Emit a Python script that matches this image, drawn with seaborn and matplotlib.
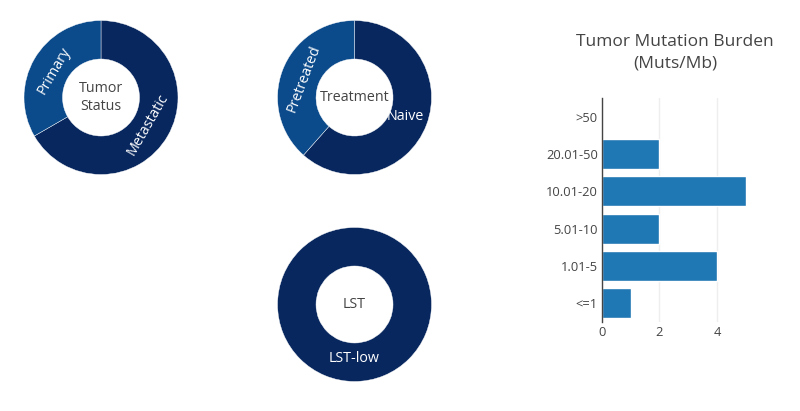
import numpy as np
import pandas as pd
import seaborn as sns
import matplotlib.pyplot as plt

# donut data
status_labels = ['Metastatic', 'Primary']
status_counts = [10, 5]
treat_labels = ['Naive', 'Pretreated']
treat_counts = [8, 5]
lst_labels = ['LST-low']
lst_counts = [1]

# tumor mutation burden bars
tmb_bins = ['>50', '20.01-50', '10.01-20', '5.01-10', '1.01-5', '<=1']
tmb_counts = [0, 2, 5, 2, 4, 1]

dark = '#08275e'
light = '#0b4a8b'
text_col = '#444444'

sns.set_theme(style='white')
plt.rcParams['font.family'] = ['Open Sans', 'DejaVu Sans']

fig = plt.figure(figsize=(8, 4.11), dpi=100)


def donut(rect, labels, counts, center_text, flat=()):
    ax = fig.add_axes(rect)
    wedges, _ = ax.pie(counts, colors=[dark, light][:len(counts)],
                       startangle=90, counterclock=False, radius=1,
                       wedgeprops=dict(width=0.5, edgecolor='white', linewidth=0.3))
    for w, lab in zip(wedges, labels):
        mid = np.deg2rad((w.theta1 + w.theta2) / 2)
        if len(counts) == 1:
            mid = np.deg2rad(-90)
        x, y = 0.70 * np.cos(mid), 0.70 * np.sin(mid)
        rot = np.rad2deg(mid) + 90
        rot = (rot + 90) % 180 - 90
        if lab in flat or len(counts) == 1:
            rot = 0
        ax.text(x, y, lab, color='white', fontsize=10.3, rotation=rot,
                ha='center', va='center', rotation_mode='anchor')
    ax.text(0, 0, center_text, color=text_col, fontsize=10.3,
            ha='center', va='center', linespacing=1.3)
    ax.set_xlim(-1, 1)
    ax.set_ylim(-1, 1)
    ax.set_aspect('equal')
    ax.axis('off')
    return ax


donut([0.03, 0.5754, 0.1925, 0.3747], status_labels, status_counts, 'Tumor\nStatus')
donut([0.3469, 0.5754, 0.1925, 0.3747], treat_labels, treat_counts, 'Treatment',
      flat=('Naive',))
donut([0.3469, 0.0718, 0.1925, 0.3747], lst_labels, lst_counts, 'LST')

# bar chart
df = pd.DataFrame({'bin': tmb_bins, 'count': tmb_counts})
ax = fig.add_axes([0.7525, 0.2165, 0.189, 0.545])
sns.barplot(data=df, y='bin', x='count', orient='h', color='#1f77b4',
            saturation=1, width=0.8, ax=ax, order=tmb_bins)
ax.set_xlim(0, 5.26)
ax.set_xticks([0, 2, 4])
ax.grid(axis='x', color='#eeeeee', linewidth=1)
ax.set_axisbelow(True)
for s in ['top', 'right', 'bottom']:
    ax.spines[s].set_visible(False)
ax.spines['left'].set_color('#444444')
ax.spines['left'].set_linewidth(1)
ax.tick_params(axis='both', length=0, labelsize=9.3, colors=text_col, pad=3)
ax.set_xlabel('')
ax.set_ylabel('')
fig.text(0.844, 0.872, 'Tumor Mutation Burden\n(Muts/Mb)', ha='center', va='center',
         fontsize=12.5, color=text_col, linespacing=1.45)

fig.savefig('out.png', dpi=100, facecolor='white')
